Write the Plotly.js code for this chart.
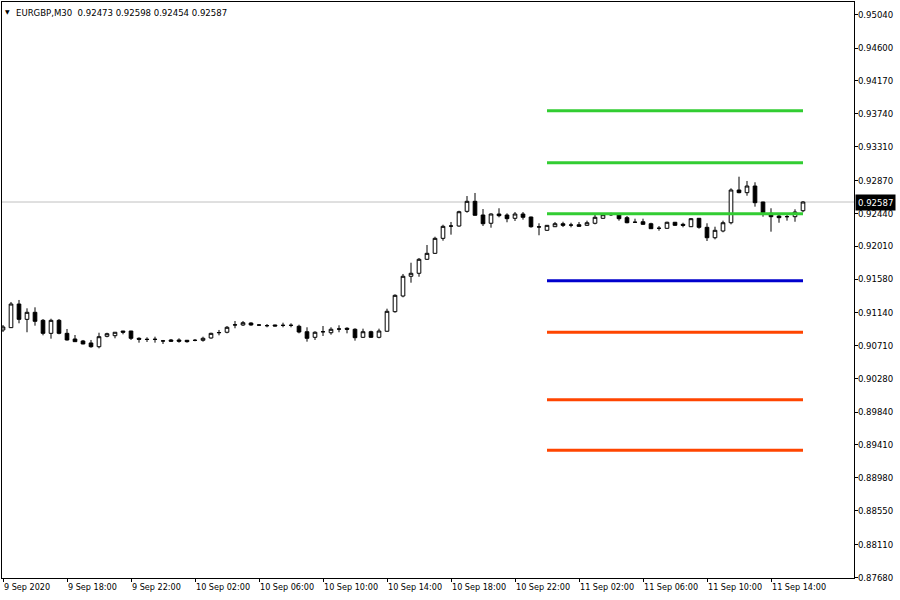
<!DOCTYPE html>
<html>
<head>
<meta charset="utf-8">
<script src="https://cdn.plot.ly/plotly-3.0.1.min.js"></script>
<style>html,body{margin:0;padding:0;background:#fff;}#chart{width:900px;height:600px;}</style>
</head>
<body>
<div id="chart"></div>
<script>
// ---- data (EURGBP, M30) ----
var times = [
"2020-09-09 14:00","2020-09-09 14:30","2020-09-09 15:00","2020-09-09 15:30","2020-09-09 16:00","2020-09-09 16:30","2020-09-09 17:00","2020-09-09 17:30",
"2020-09-09 18:00","2020-09-09 18:30","2020-09-09 19:00","2020-09-09 19:30","2020-09-09 20:00","2020-09-09 20:30","2020-09-09 21:00","2020-09-09 21:30",
"2020-09-09 22:00","2020-09-09 22:30","2020-09-09 23:00","2020-09-09 23:30","2020-09-10 00:00","2020-09-10 00:30","2020-09-10 01:00","2020-09-10 01:30",
"2020-09-10 02:00","2020-09-10 02:30","2020-09-10 03:00","2020-09-10 03:30","2020-09-10 04:00","2020-09-10 04:30","2020-09-10 05:00","2020-09-10 05:30",
"2020-09-10 06:00","2020-09-10 06:30","2020-09-10 07:00","2020-09-10 07:30","2020-09-10 08:00","2020-09-10 08:30","2020-09-10 09:00","2020-09-10 09:30",
"2020-09-10 10:00","2020-09-10 10:30","2020-09-10 11:00","2020-09-10 11:30","2020-09-10 12:00","2020-09-10 12:30","2020-09-10 13:00","2020-09-10 13:30",
"2020-09-10 14:00","2020-09-10 14:30","2020-09-10 15:00","2020-09-10 15:30","2020-09-10 16:00","2020-09-10 16:30","2020-09-10 17:00","2020-09-10 17:30",
"2020-09-10 18:00","2020-09-10 18:30","2020-09-10 19:00","2020-09-10 19:30","2020-09-10 20:00","2020-09-10 20:30","2020-09-10 21:00","2020-09-10 21:30",
"2020-09-10 22:00","2020-09-10 22:30","2020-09-10 23:00","2020-09-10 23:30","2020-09-11 00:00","2020-09-11 00:30","2020-09-11 01:00","2020-09-11 01:30",
"2020-09-11 02:00","2020-09-11 02:30","2020-09-11 03:00","2020-09-11 03:30","2020-09-11 04:00","2020-09-11 04:30","2020-09-11 05:00","2020-09-11 05:30",
"2020-09-11 06:00","2020-09-11 06:30","2020-09-11 07:00","2020-09-11 07:30","2020-09-11 08:00","2020-09-11 08:30","2020-09-11 09:00","2020-09-11 09:30",
"2020-09-11 10:00","2020-09-11 10:30","2020-09-11 11:00","2020-09-11 11:30","2020-09-11 12:00","2020-09-11 12:30","2020-09-11 13:00","2020-09-11 13:30",
"2020-09-11 14:00","2020-09-11 14:30","2020-09-11 15:00","2020-09-11 15:30","2020-09-11 16:00"
];

var openPrices = [
0.90914,0.90944,0.91253,0.91053,0.91145,0.91040,0.90870,0.91040,0.90870,0.90796,
0.90770,0.90744,0.90695,0.90831,0.90839,0.90900,0.90900,0.90805,0.90792,0.90790,
0.90770,0.90783,0.90783,0.90779,0.90779,0.90779,0.90809,0.90878,0.90884,0.90979,
0.90979,0.91005,0.90979,0.90971,0.90979,0.90975,0.90974,0.90962,0.90891,0.90818,
0.90890,0.90878,0.90927,0.90936,0.90923,0.90818,0.90891,0.90818,0.90897,0.91153,
0.91358,0.91616,0.91655,0.91838,0.91916,0.92112,0.92272,0.92273,0.92465,0.92596,
0.92417,0.92309,0.92430,0.92417,0.92374,0.92430,0.92391,0.92260,0.92217,0.92264,
0.92303,0.92286,0.92290,0.92282,0.92309,0.92374,0.92421,0.92421,0.92382,0.92323,
0.92329,0.92303,0.92243,0.92243,0.92322,0.92295,0.92264,0.92374,0.92256,0.92120,
0.92208,0.92316,0.92744,0.92709,0.92796,0.92587,0.92439,0.92404,0.92395,0.92395,
0.92473
];
var highPrices = [
0.90979,0.91280,0.91306,0.91197,0.91210,0.91057,0.91061,0.91057,0.90927,0.90848,
0.90783,0.90783,0.90878,0.90878,0.90884,0.90902,0.90902,0.90818,0.90818,0.90826,
0.90783,0.90796,0.90805,0.90783,0.90796,0.90826,0.90878,0.90914,0.90966,0.91031,
0.91031,0.91014,0.90992,0.90992,0.90983,0.91009,0.91001,0.90983,0.90949,0.90897,
0.90966,0.90949,0.90975,0.90949,0.90936,0.90931,0.90904,0.90931,0.91192,0.91380,
0.91646,0.91793,0.91855,0.92025,0.92133,0.92290,0.92326,0.92473,0.92665,0.92705,
0.92495,0.92439,0.92505,0.92439,0.92456,0.92456,0.92395,0.92309,0.92286,0.92326,
0.92329,0.92316,0.92326,0.92343,0.92417,0.92443,0.92447,0.92439,0.92404,0.92369,
0.92369,0.92316,0.92273,0.92329,0.92326,0.92316,0.92378,0.92378,0.92309,0.92264,
0.92343,0.92766,0.92918,0.92862,0.92845,0.92590,0.92505,0.92430,0.92430,0.92492,
0.92598
];
var lowPrices = [
0.90887,0.90940,0.91001,0.90884,0.90970,0.90844,0.90800,0.90857,0.90776,0.90758,
0.90727,0.90682,0.90674,0.90818,0.90805,0.90857,0.90783,0.90748,0.90757,0.90748,
0.90731,0.90757,0.90748,0.90748,0.90766,0.90761,0.90800,0.90844,0.90870,0.90936,
0.90966,0.90970,0.90966,0.90949,0.90962,0.90949,0.90949,0.90870,0.90761,0.90783,
0.90835,0.90852,0.90884,0.90870,0.90774,0.90809,0.90809,0.90805,0.90891,0.91140,
0.91341,0.91532,0.91610,0.91829,0.91910,0.92081,0.92160,0.92264,0.92447,0.92410,
0.92273,0.92251,0.92387,0.92322,0.92339,0.92356,0.92251,0.92152,0.92212,0.92260,
0.92260,0.92256,0.92264,0.92277,0.92295,0.92369,0.92404,0.92343,0.92309,0.92320,
0.92290,0.92235,0.92212,0.92238,0.92277,0.92256,0.92260,0.92238,0.92077,0.92099,
0.92191,0.92295,0.92701,0.92669,0.92526,0.92395,0.92199,0.92316,0.92343,0.92329,
0.92454
];
var closePrices = [
0.90953,0.91253,0.91053,0.91145,0.91027,0.90870,0.91040,0.90870,0.90783,0.90761,
0.90731,0.90695,0.90826,0.90865,0.90884,0.90884,0.90805,0.90792,0.90790,0.90792,
0.90771,0.90766,0.90766,0.90761,0.90778,0.90805,0.90870,0.90880,0.90949,0.90981,
0.91009,0.90979,0.90978,0.90970,0.90966,0.90974,0.90975,0.90887,0.90805,0.90884,
0.90891,0.90923,0.90926,0.90923,0.90813,0.90891,0.90818,0.90900,0.91158,0.91367,
0.91616,0.91655,0.91838,0.91916,0.92112,0.92269,0.92273,0.92460,0.92596,0.92413,
0.92303,0.92430,0.92408,0.92369,0.92430,0.92387,0.92264,0.92262,0.92282,0.92303,
0.92282,0.92285,0.92269,0.92316,0.92387,0.92421,0.92422,0.92369,0.92316,0.92322,
0.92295,0.92238,0.92244,0.92322,0.92282,0.92282,0.92369,0.92256,0.92120,0.92217,
0.92316,0.92744,0.92709,0.92796,0.92578,0.92447,0.92395,0.92382,0.92396,0.92456,
0.92587
];

// daily pivot-style levels drawn across 11 Sep
var levelValues = [0.93781, 0.93101, 0.92434, 0.91559, 0.90883, 0.90003, 0.89340];
var levelColors = ["#32cd32","#32cd32","#32cd32","#0000cd","#ff4500","#ff4500","#ff4500"];
var levelStart = "2020-09-11 00:00";
var levelEnd = "2020-09-11 16:00";

var lastPrice = 0.92587;
var symbolText = "EURGBP,M30";
var ohlcText = "0.92473 0.92598 0.92454 0.92587";

var yTickVals = [0.95040,0.94600,0.94170,0.93740,0.93310,0.92870,0.92440,0.92010,0.91580,
                 0.91140,0.90710,0.90280,0.89840,0.89410,0.88980,0.88550,0.88110,0.87680];
var xTickVals = ["2020-09-09 14:00","2020-09-09 18:00","2020-09-09 22:00","2020-09-10 02:00",
                 "2020-09-10 06:00","2020-09-10 10:00","2020-09-10 14:00","2020-09-10 18:00",
                 "2020-09-10 22:00","2020-09-11 02:00","2020-09-11 06:00","2020-09-11 10:00",
                 "2020-09-11 14:00"];
var xTickText = ["9 Sep 2020","9 Sep 18:00","9 Sep 22:00","10 Sep 02:00","10 Sep 06:00",
                 "10 Sep 10:00","10 Sep 14:00","10 Sep 18:00","10 Sep 22:00","11 Sep 02:00",
                 "11 Sep 06:00","11 Sep 10:00","11 Sep 14:00"];

// ---- chart ----
var FONT = "DejaVu Sans Condensed, Liberation Sans, sans-serif";
var traces = [];
for (var k = 0; k < levelValues.length; k++) {
  traces.push({
    type: "scatter", mode: "lines",
    x: [levelStart, levelEnd], y: [levelValues[k], levelValues[k]],
    line: {color: levelColors[k], width: 3},
    hoverinfo: "skip", showlegend: false
  });
}
traces.push({
  type: "candlestick",
  x: times, open: openPrices, high: highPrices, low: lowPrices, close: closePrices,
  increasing: {line: {color: "#000000", width: 1}, fillcolor: "#ffffff"},
  decreasing: {line: {color: "#000000", width: 1}, fillcolor: "#000000"},
  whiskerwidth: 0,
  showlegend: false, hoverinfo: "skip"
});

var layout = {
  width: 900, height: 600,
  margin: {l: 2, r: 46, t: 2, b: 22, pad: 0},
  paper_bgcolor: "#ffffff", plot_bgcolor: "#ffffff",
  showlegend: false, hovermode: false, dragmode: false,
  boxgap: 0.35,
  font: {family: FONT, size: 9, color: "#000000"},
  xaxis: {
    type: "date",
    range: ["2020-09-09 13:56:15", "2020-09-11 19:11:15"],
    rangeslider: {visible: false},
    showgrid: false, zeroline: false,
    showline: true, mirror: true, linecolor: "#000000", linewidth: 1,
    ticks: "outside", ticklen: 3, tickcolor: "#000000", tickwidth: 1,
    tickmode: "array", tickvals: xTickVals, ticktext: xTickText,
    ticklabelposition: "outside right",
    tickfont: {family: FONT, size: 9, color: "#000000"}
  },
  yaxis: {
    side: "right",
    range: [0.87671, 0.95202],
    showgrid: false, zeroline: false,
    showline: true, mirror: true, linecolor: "#000000", linewidth: 1,
    ticks: "outside", ticklen: 3, tickcolor: "#000000", tickwidth: 1,
    tickmode: "array", tickvals: yTickVals,
    ticktext: yTickVals.map(function (v) { return v.toFixed(5); }),
    ticklabelstandoff: -2,
    tickfont: {family: FONT, size: 9.5, color: "#000000"}
  },
  shapes: [{
    type: "line", xref: "paper", x0: 0, x1: 1, yref: "y", y0: lastPrice, y1: lastPrice,
    line: {color: "#c0c0c0", width: 1}, layer: "below"
  }],
  annotations: [
    {
      xref: "paper", yref: "y", x: 1, y: lastPrice, xanchor: "left", yanchor: "middle",
      xshift: 1, text: lastPrice.toFixed(5), showarrow: false,
      font: {family: FONT, size: 9.5, color: "#ffffff"}, bgcolor: "#000000", borderpad: 2
    },
    {
      xref: "paper", yref: "paper", x: 0, y: 1, xanchor: "left", yanchor: "top",
      xshift: 1, yshift: -4, text: "\u25BC", showarrow: false,
      font: {family: "DejaVu Sans", size: 6, color: "#000000"}
    },
    {
      xref: "paper", yref: "paper", x: 0, y: 1, xanchor: "left", yanchor: "top",
      xshift: 12, yshift: -3,
      text: symbolText + "\u00a0 " + ohlcText, showarrow: false,
      font: {family: FONT, size: 9.5, color: "#000000"}
    }
  ]
};

Plotly.newPlot("chart", traces, layout, {staticPlot: true, displayModeBar: false});
</script>
</body>
</html>
